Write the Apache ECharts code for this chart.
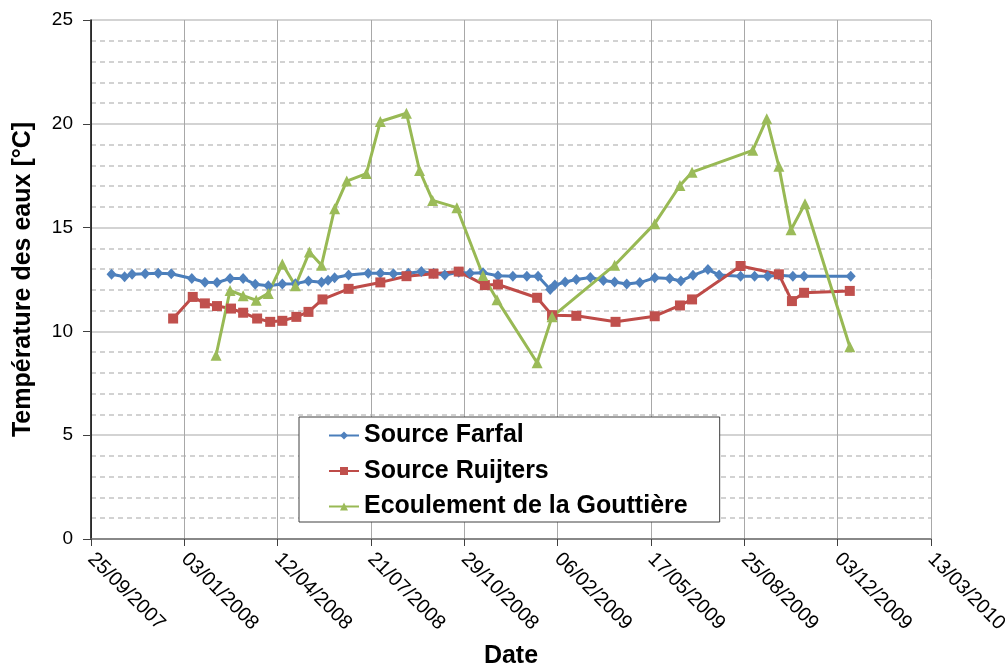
<!DOCTYPE html>
<html>
<head>
<meta charset="utf-8">
<script src="https://cdn.jsdelivr.net/npm/echarts@6.0.0/dist/echarts.min.js"></script>
<style>
  html, body { margin: 0; padding: 0; background: #fff; }
  #chart { width: 1005px; height: 666px; }
</style>
</head>
<body>
<div id="chart"></div>
<script>
// x values are days counted from 25/09/2007
const startDate = Date.UTC(2007, 8, 25);

const farfalDay = [22, 36, 44, 58, 72, 86, 108, 122, 135, 149, 163, 176, 190, 205, 219, 233, 247, 254, 261, 276,
    297, 310, 324, 340, 354, 367, 379, 394, 406, 420, 436, 452, 467, 479, 492, 497, 508, 520, 535, 549,
    561, 574, 588, 604, 620, 632, 645, 661, 673, 696, 711, 725, 737, 752, 764, 814];
const farfalTemp = [12.75, 12.63, 12.75, 12.78, 12.8, 12.78, 12.55, 12.37, 12.35, 12.55, 12.55, 12.27, 12.2, 12.28, 12.3, 12.43, 12.37, 12.46, 12.58, 12.72,
    12.8, 12.8, 12.78, 12.8, 12.88, 12.8, 12.72, 12.85, 12.8, 12.82, 12.68, 12.66, 12.66, 12.66, 12.02, 12.23, 12.38, 12.5, 12.6, 12.45,
    12.38, 12.28, 12.35, 12.58, 12.55, 12.43, 12.7, 12.98, 12.72, 12.66, 12.66, 12.66, 12.7, 12.66, 12.66, 12.66];

const ruijtersDay = [88, 109, 122, 135, 150, 163, 178, 192, 205, 220, 233, 248, 276, 310, 338, 367, 394, 422, 436, 478,
    494, 520, 562, 604, 631, 644, 696, 737, 751, 764, 813];
const ruijtersTemp = [10.62, 11.66, 11.35, 11.22, 11.1, 10.9, 10.62, 10.46, 10.51, 10.7, 10.94, 11.54, 12.05, 12.36, 12.66, 12.78, 12.88, 12.23, 12.26, 11.62,
    10.78, 10.75, 10.46, 10.73, 11.25, 11.54, 13.15, 12.75, 11.46, 11.86, 11.95];

const gouttiereDay = [134, 149, 163, 177, 190, 205, 219, 234, 247, 261, 274, 295, 310, 338, 352, 366, 392, 420, 435, 478,
    494, 561, 604, 631, 644, 709, 724, 737, 750, 765, 813];
const gouttiereTemp = [8.85, 11.97, 11.72, 11.5, 11.83, 13.25, 12.2, 13.82, 13.19, 15.91, 17.24, 17.6, 20.11, 20.51, 17.75, 16.31, 15.96, 12.69, 11.52, 8.49,
    10.7, 13.19, 15.19, 17.03, 17.67, 18.72, 20.24, 17.95, 14.9, 16.15, 9.26];

const seriesNames = ["Source Farfal", "Source Ruijters", "Ecoulement de la Gouttière"];

const font = "'Liberation Sans', Arial, sans-serif";

const pad = (n) => (n < 10 ? "0" + n : "" + n);
const dayLabel = (d) => {
    const dt = new Date(startDate + d * 86400000);
    return pad(dt.getUTCDate()) + "/" + pad(dt.getUTCMonth() + 1) + "/" + dt.getUTCFullYear();
};
const pairs = (xs, ys) => xs.map((x, i) => [x, ys[i]]);

const chart = echarts.init(document.getElementById("chart"));
const option = {
    animation: false,
    grid: { left: 91, right: 74, top: 20, bottom: 127, outerBoundsMode: "none", containLabel: false },
    legend: {
        orient: "vertical",
        left: 299,
        top: 417,
        padding: [6, 32, 3, 29],
        itemGap: 10.5,
        itemWidth: 30,
        itemHeight: 10,
        backgroundColor: "#fff",
        borderColor: "#404040",
        borderWidth: 1,
        textStyle: { fontFamily: font, fontSize: 25, fontWeight: "bold", color: "#000" },
        data: seriesNames,
    },
    xAxis: {
        type: "value",
        min: 0,
        max: 900,
        interval: 100,
        name: "Date",
        nameLocation: "middle",
        nameGap: 105,
        nameTextStyle: { fontFamily: font, fontSize: 25, fontWeight: "bold", color: "#000" },
        axisLine: { onZero: false, lineStyle: { color: "#707070", width: 1.5 } },
        axisTick: { show: true, length: 7, lineStyle: { color: "#404040" } },
        axisLabel: {
            rotate: -45,
            margin: 17,
            fontFamily: font,
            fontSize: 20,
            color: "#000",
            formatter: dayLabel,
        },
        splitLine: { show: true, lineStyle: { color: "#a8a8a8", width: 1 } },
    },
    yAxis: {
        type: "value",
        min: 0,
        max: 25,
        interval: 5,
        name: "Température des eaux [°C]",
        nameLocation: "middle",
        nameGap: 55,
        nameTextStyle: { fontFamily: font, fontSize: 25, fontWeight: "bold", color: "#000" },
        axisLine: { show: true, lineStyle: { color: "#000", width: 1.5 } },
        axisTick: { show: true, length: 8, lineStyle: { color: "#404040" } },
        axisLabel: { margin: 18, fontFamily: font, fontSize: 19, color: "#000" },
        splitLine: { show: true, lineStyle: { color: "#c4c4c4", width: 1.5 } },
        minorTick: { show: false, splitNumber: 5 },
        minorSplitLine: { show: true, lineStyle: { color: "#c4c4c4", width: 1.5, type: [5, 4] } },
    },
    series: [
        {
            name: seriesNames[0],
            type: "line",
            symbol: "diamond",
            symbolSize: [10, 11],
            lineStyle: { color: "#4a7ebb", width: 3 },
            itemStyle: { color: "#4f81bd" },
            data: pairs(farfalDay, farfalTemp),
        },
        {
            name: seriesNames[1],
            type: "line",
            symbol: "rect",
            symbolSize: 10,
            lineStyle: { color: "#be4b48", width: 3 },
            itemStyle: { color: "#c0504d" },
            data: pairs(ruijtersDay, ruijtersTemp),
        },
        {
            name: seriesNames[2],
            type: "line",
            symbol: "triangle",
            symbolSize: 11,
            lineStyle: { color: "#98b954", width: 3 },
            itemStyle: { color: "#9bbb59" },
            data: pairs(gouttiereDay, gouttiereTemp),
        },
    ],
};
chart.setOption(option);
</script>
</body>
</html>
